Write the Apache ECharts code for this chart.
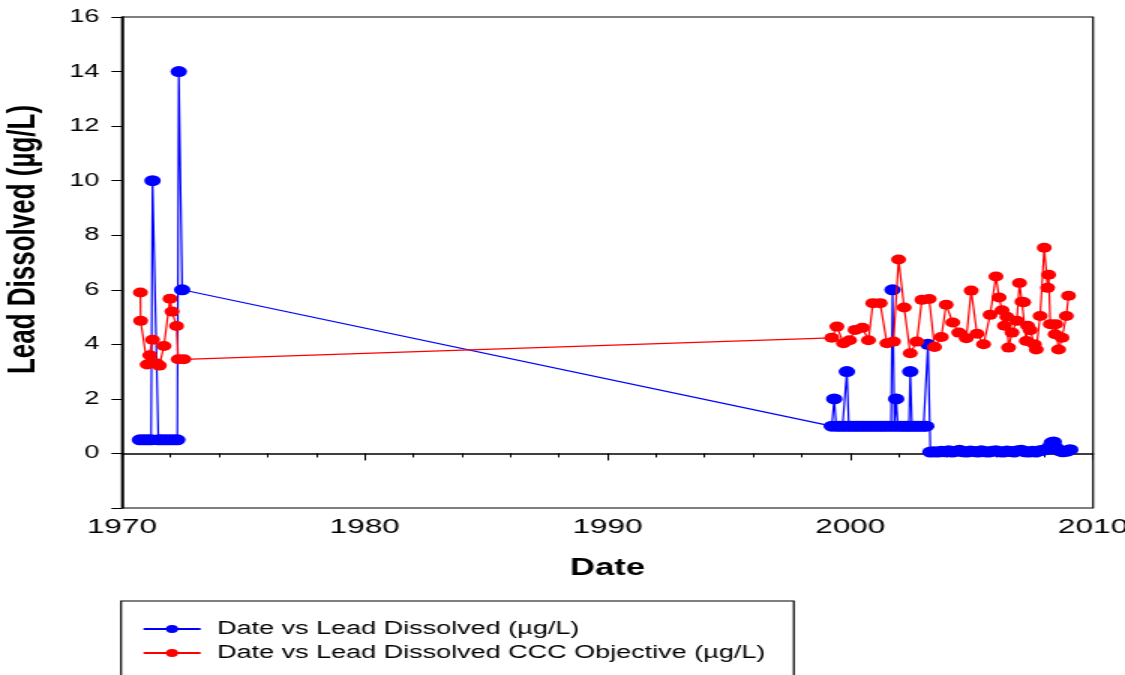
<!DOCTYPE html>
<html>
<head>
<meta charset="utf-8">
<script src="https://cdn.jsdelivr.net/npm/echarts@6/dist/echarts.min.js"></script>
<style>
  html, body { margin: 0; padding: 0; background: #fff; overflow: hidden; }
  #wrap { width: 1125px; height: 675px; overflow: hidden; position: relative; }
  #chart { width: 750px; height: 720px; transform: scaleX(1.5); transform-origin: 0 0; }
</style>
</head>
<body>
<div id="wrap"><div id="chart"></div></div>
<script>
// ---- data ----
var seriesNames = ['Date vs Lead Dissolved (\u00b5g/L)', 'Date vs Lead Dissolved CCC Objective (\u00b5g/L)'];
var xTitle = 'Date';
var yTitle = 'Lead Dissolved (\u00b5g/L)';

var blueDates = [
  1970.74, 1970.90, 1971.06, 1971.20, 1971.26, 1971.50, 1971.64, 1971.80, 1971.96, 1972.12, 1972.28, 1972.34, 1972.48,
  1999.24, 1999.34, 1999.42, 1999.55, 1999.68, 1999.80, 1999.86, 1999.94, 2000.05, 2000.18, 2000.30, 2000.42,
  2000.55, 2000.68, 2000.80, 2000.92, 2001.05, 2001.18, 2001.30, 2001.42, 2001.55, 2001.68, 2001.74, 2001.82,
  2001.89, 2001.96, 2002.08, 2002.20, 2002.32, 2002.42, 2002.47, 2002.54, 2002.66, 2002.78, 2002.90, 2003.02,
  2003.13, 2003.20,
  2003.30, 2003.45, 2003.60, 2003.75, 2003.90, 2004.05, 2004.20, 2004.35, 2004.50, 2004.65, 2004.80, 2004.95,
  2005.10, 2005.25, 2005.40, 2005.55, 2005.70, 2005.85, 2006.00, 2006.15, 2006.30, 2006.45, 2006.60, 2006.75,
  2006.90, 2007.05, 2007.20, 2007.35, 2007.50, 2007.65, 2007.80, 2007.95, 2008.10, 2008.22, 2008.30, 2008.38,
  2008.48, 2008.60, 2008.75, 2008.90, 2009.00, 2009.06
];
var blueValues = [
  0.5, 0.5, 0.5, 0.5, 10, 0.5, 0.5, 0.5, 0.5, 0.5, 0.5, 14, 6,
  1, 2, 1, 1, 1, 1, 3, 1, 1, 1, 1, 1,
  1, 1, 1, 1, 1, 1, 1, 1, 1, 1, 6, 1,
  2, 1, 1, 1, 1, 1, 3, 1, 1, 1, 1, 1,
  1, 4,
  0.05, 0.06, 0.05, 0.08, 0.06, 0.10, 0.05, 0.08, 0.12, 0.06, 0.05, 0.09,
  0.07, 0.05, 0.10, 0.06, 0.05, 0.08, 0.10, 0.06, 0.05, 0.09, 0.07, 0.05,
  0.10, 0.12, 0.06, 0.05, 0.08, 0.05, 0.10, 0.12, 0.15, 0.25, 0.40, 0.42,
  0.20, 0.10, 0.06, 0.08, 0.12, 0.14
];

var redDates = [
  1970.76, 1970.77, 1971.04, 1971.26, 1971.15, 1971.44, 1971.54, 1971.73, 1971.98, 1972.06, 1972.25, 1972.32, 1972.55,
  1999.24, 1999.45, 1999.72, 1999.97, 2000.20, 2000.50, 2000.75, 2000.93, 2001.23, 2001.51, 2001.78, 2001.99,
  2002.22, 2002.47, 2002.74, 2002.95, 2003.25, 2003.47, 2003.75, 2003.95, 2004.22, 2004.47, 2004.78, 2004.98,
  2005.22, 2005.49, 2005.76, 2006.00, 2006.13, 2006.25, 2006.35, 2006.45, 2006.52, 2006.66, 2006.86, 2006.97,
  2007.07, 2007.14, 2007.25, 2007.30, 2007.41, 2007.58, 2007.66, 2007.82, 2007.99, 2008.13, 2008.17, 2008.24,
  2008.44, 2008.46, 2008.58, 2008.72, 2008.90, 2008.99
];
var redValues = [
  5.9, 4.86, 3.26, 4.17, 3.6, 3.3, 3.22, 3.94, 5.67, 5.2, 4.67, 3.45, 3.45,
  4.24, 4.65, 4.04, 4.15, 4.53, 4.61, 4.15, 5.51, 5.51, 4.04, 4.10, 7.11,
  5.35, 3.67, 4.10, 5.63, 5.66, 3.90, 4.27, 5.45, 4.80, 4.43, 4.22, 5.97,
  4.39, 4.00, 5.08, 6.49, 5.72, 5.25, 4.68, 5.01, 3.88, 4.43, 4.86, 6.25,
  5.56, 5.54, 4.12, 4.68, 4.52, 4.00, 3.81, 5.04, 7.54, 6.07, 6.55, 4.74,
  4.37, 4.74, 3.81, 4.24, 5.04, 5.78
];

var xTicks = { min: 1970, max: 2010, step: 10 };
var yTicks = { min: -2, max: 16, step: 2 };

// ---- chart ----
function zip(a, b) { return a.map(function (d, i) { return [d, b[i]]; }); }

var FONT = '"Liberation Sans", Arial, sans-serif';
var chart = echarts.init(document.getElementById('chart'), null, { width: 750, height: 720 });

chart.setOption({
  animation: false,
  backgroundColor: '#ffffff',
  textStyle: { fontFamily: FONT, color: '#000' },
  grid: {
    left: 81.3, right: 21.3, top: 17, bottom: 212,
    outerBoundsMode: 'none', containLabel: false,
    show: true, borderColor: '#000', borderWidth: 1.2, backgroundColor: 'transparent'
  },
  legend: {
    orient: 'vertical',
    left: 80.7,
    top: 601,
    padding: [19, 19, 40, 14],
    itemGap: 6,
    itemWidth: 38,
    itemHeight: 10,
    borderColor: '#000',
    borderWidth: 1.2,
    borderRadius: 0,
    data: seriesNames,
    textStyle: { fontFamily: FONT, fontSize: 18, color: '#000', lineHeight: 18, padding: [0, 0, 0, 6] }
  },
  xAxis: {
    type: 'value',
    min: xTicks.min, max: xTicks.max, interval: xTicks.step,
    name: xTitle,
    nameLocation: 'middle',
    nameGap: 49,
    nameTextStyle: { fontFamily: FONT, fontSize: 23, fontWeight: 'bold', color: '#000' },
    axisLine: { show: true, lineStyle: { color: '#000', width: 1.5 } },
    axisTick: { show: true, length: 7, lineStyle: { color: '#000', width: 1 } },
    minorTick: { show: true, splitNumber: 5, length: 4, lineStyle: { color: '#000', width: 1 } },
    axisLabel: {
      fontFamily: FONT, fontSize: 21, color: '#000', margin: 9,
      formatter: function (v) { return String(v); }
    },
    splitLine: { show: false },
    minorSplitLine: { show: false }
  },
  yAxis: {
    type: 'value',
    min: yTicks.min, max: yTicks.max, interval: yTicks.step,
    name: '{s|}' + yTitle,
    nameLocation: 'middle',
    nameGap: 52,
    nameRotate: 90,
    nameTextStyle: {
      fontFamily: FONT, fontSize: 26, fontWeight: 'bold', color: '#000',
      rich: { s: { width: 46 } }
    },
    axisLine: { show: true, lineStyle: { color: '#000', width: 1.5 } },
    axisTick: { show: true, length: 7, lineStyle: { color: '#000', width: 1 } },
    axisLabel: {
      fontFamily: FONT, fontSize: 18, color: '#000', margin: 15,
      formatter: function (v) { return v < 0 ? '' : String(v); }
    },
    splitLine: { show: false }
  },
  series: [
    {
      name: seriesNames[0],
      type: 'line',
      data: zip(blueDates, blueValues),
      symbol: 'circle',
      symbolSize: 11,
      showAllSymbol: true,
      color: '#0000ff',
      itemStyle: { color: '#0000ff' },
      lineStyle: { color: '#0000ff', width: 1.2 },
      z: 2
    },
    {
      name: seriesNames[1],
      type: 'line',
      data: zip(redDates, redValues),
      symbol: 'circle',
      symbolSize: 10,
      showAllSymbol: true,
      color: '#ff0000',
      itemStyle: { color: '#ff0000' },
      lineStyle: { color: '#ff0000', width: 1.2 },
      z: 3
    }
  ]
});
</script>
</body>
</html>
